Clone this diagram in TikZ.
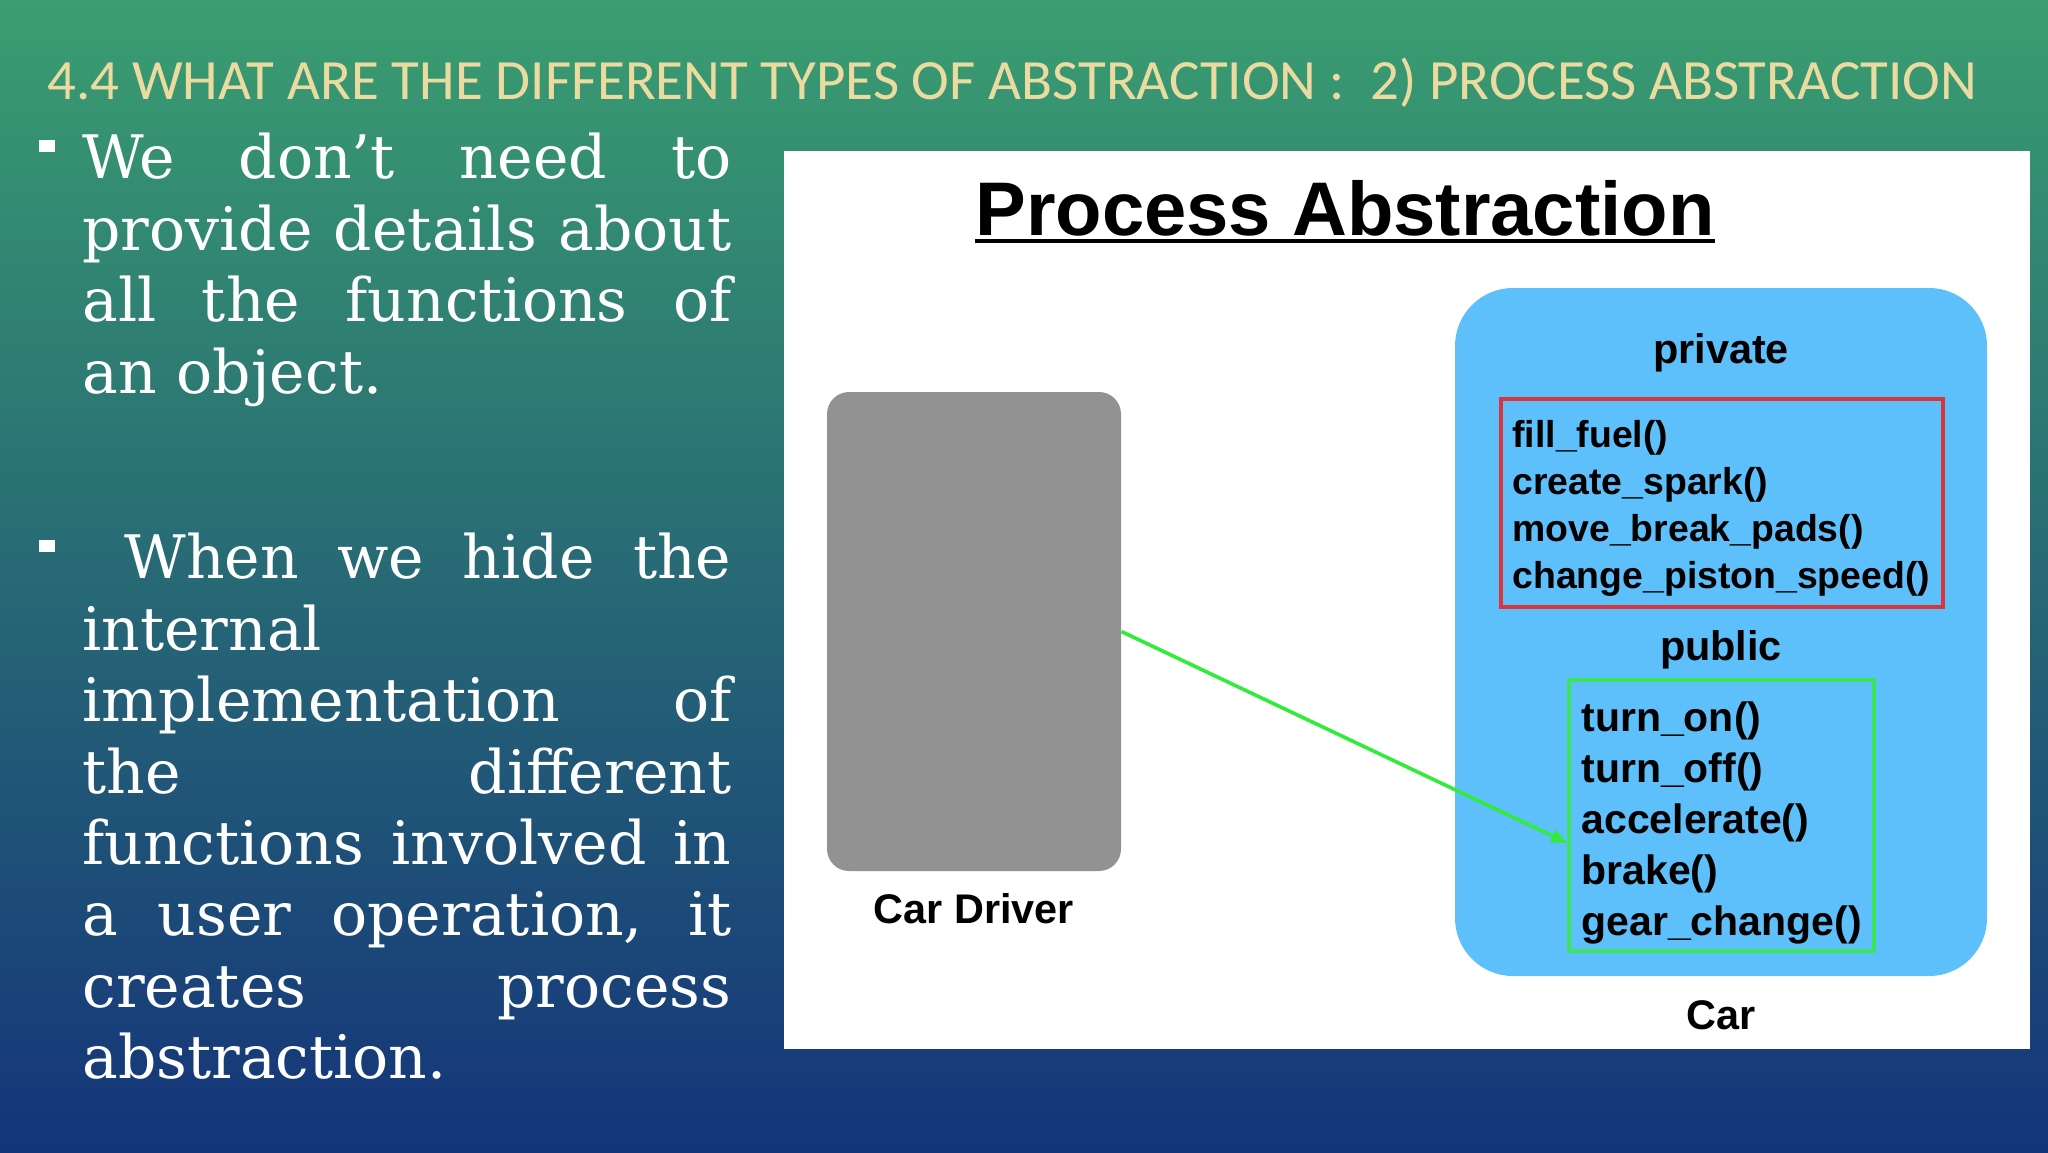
\documentclass[tikz,border=0pt]{standalone}
\usepackage{fontspec}
\usepackage{graphicx}
\newfontfamily\bodyfont{DejaVu Serif}
\newfontfamily\headfont{Carlito}
\newfontfamily\diagfont{Liberation Sans}
\usetikzlibrary{arrows.meta,positioning,calc}
\definecolor{slidegold}{RGB}{236,219,160}
\definecolor{carblue}{RGB}{94,192,250}
\definecolor{drivergray}{RGB}{146,146,146}
\definecolor{privred}{RGB}{216,54,60}
\definecolor{pubgreen}{RGB}{60,228,90}
\definecolor{arrowgreen}{RGB}{50,235,60}
\definecolor{bgtop}{RGB}{58,158,112}
\definecolor{bgmid}{RGB}{36,122,134}
\definecolor{bgbot}{RGB}{20,52,122}
% justified line: every space stretches by the same amount
\newcommand\jline[1]{\leavevmode\hbox to 324.5pt{\spaceskip=\fontdimen2\font plus 1fil\relax #1}}
\tikzset{
  bullettext/.style={anchor=north west, inner sep=0pt, text width=324.5pt, align=left,
    text=white, font=\bodyfont\fontsize{30}{35.7}\selectfont},
  bulletmark/.style={rectangle, fill=white, minimum width=8pt, minimum height=6pt, inner sep=0pt},
  slidetitle/.style={anchor=base west, inner sep=0pt, text=slidegold, font=\headfont\fontsize{30}{36}\selectfont},
  diagtitle/.style={anchor=base, inner sep=0pt, font=\diagfont\bfseries\fontsize{38}{44}\selectfont},
  label/.style={anchor=base, inner sep=0pt, font=\diagfont\bfseries\fontsize{20.7}{24}\selectfont},
  privfn/.style={anchor=base west, inner sep=0pt, font=\diagfont\bfseries\fontsize{18.7}{22}\selectfont},
  pubfn/.style={anchor=base west, inner sep=0pt, font=\diagfont\bfseries\fontsize{20.5}{24}\selectfont},
  driverbox/.style={rectangle, rounded corners=11pt, fill=drivergray, inner sep=0pt,
    minimum width=147pt, minimum height=239.5pt},
  carbox/.style={rectangle, rounded corners=29pt, fill=carblue, inner sep=0pt,
    minimum width=266pt, minimum height=344pt},
  privbox/.style={rectangle, draw=privred, line width=1.7pt, inner sep=0pt,
    minimum width=221pt, minimum height=104pt},
  pubbox/.style={rectangle, draw=pubgreen, line width=1.7pt, inner sep=0pt,
    minimum width=152.5pt, minimum height=135.5pt},
  arrU/.style={-{Triangle[length=8pt,width=6.5pt]}, line width=1.8pt, arrowgreen},
}
\begin{document}
\begin{tikzpicture}[x=0.5pt,y=-0.5pt]
\useasboundingbox (0,0) rectangle (2048,1152);

% ================= BACKGROUND =================
\shade[top color=bgtop, middle color=bgmid, bottom color=bgbot] (0,0) rectangle (2048,1152);

% ================= SLIDE TITLE =================
\node[slidetitle] (heading) at (47,99)
  {\resizebox{965pt}{!}{4.4 WHAT ARE THE DIFFERENT TYPES OF ABSTRACTION :\ \ 2) PROCESS ABSTRACTION}};

% ================= BULLETS =================
\node[bulletmark] (b1) at (47,146) {};
\node[bullettext] (t1) at (82,128.6)
  {\jline{\strut We don’t need to}\\
   \jline{provide details about}\\
   \jline{all the functions of}\\
   an object.};

\node[bulletmark] (b2) at (47,546) {};
\node[bullettext] (t2) at (82,528.6)
  {\jline{\strut\hspace*{21pt}When we hide the}\\
   internal\\
   \jline{implementation of}\\
   \jline{the different}\\
   \jline{functions involved in}\\
   \jline{a user operation, it}\\
   \jline{creates process}\\
   abstraction.};

% ================= DIAGRAM PANEL =================
\fill[white] (784,151) rectangle (2030,1049);
\node[diagtitle] (ttl) at (1345,235) {Process Abstraction};
\draw[line width=2pt] ([yshift=-3pt]ttl.base west) -- ([yshift=-3pt]ttl.base east);

\node[driverbox] (driver) at (974,631.5) {};
\node[label] (drvlbl) at (974,923) {Car Driver};

\node[carbox] (car) at (1721,632) {};
\node[label] (carlbl) at (1721,1029) {Car};

\node[label] (privlbl) at (1721,363) {private};
\node[privbox] (priv) at (1722,503) {};
\foreach \fn [count=\i] in {fill\_fuel(), create\_spark(), move\_break\_pads(), change\_piston\_speed()}
  \node[privfn] (pv\i) at (1512,{447+47*(\i-1)}) {\fn};

\node[label] (publbl) at (1721,660) {public};
\node[pubbox] (pub) at (1721.5,815.5) {};
\foreach \fn [count=\i] in {turn\_on(), turn\_off(), accelerate(), brake(), gear\_change()}
  \node[pubfn] (pb\i) at (1581,{731+51*(\i-1)}) {\fn};

% ================= ARROW =================
\draw[arrU] (driver.east) -- ($(pub.north west)!0.6!(pub.south west)$);

\end{tikzpicture}
\end{document}
